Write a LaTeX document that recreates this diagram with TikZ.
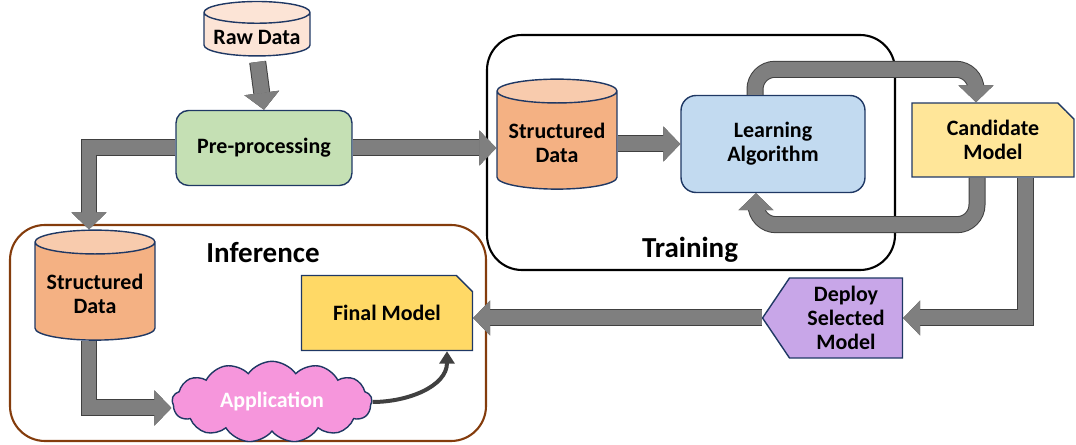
\documentclass[tikz,border=0pt]{standalone}
\usepackage{fontspec}
\setmainfont{Carlito}
\usetikzlibrary{arrows.meta,shapes.geometric,shapes.misc,shapes.symbols,calc}
\definecolor{raw_fill}{RGB}{252, 228, 214}
\definecolor{pre_fill}{RGB}{197, 224, 180}
\definecolor{sd_body}{RGB}{244, 177, 131}
\definecolor{sd_top}{RGB}{248, 203, 173}
\definecolor{la_fill}{RGB}{194, 218, 240}
\definecolor{cand_fill}{RGB}{255, 230, 153}
\definecolor{final_fill}{RGB}{255, 217, 102}
\definecolor{deploy_fill}{RGB}{200, 166, 232}
\definecolor{app_fill}{RGB}{246, 150, 220}
\definecolor{edge_blue}{RGB}{31, 56, 100}
\definecolor{arr_gray}{RGB}{127, 127, 127}
\definecolor{arr_edge}{RGB}{64, 64, 64}
\definecolor{inf_border}{RGB}{132, 60, 12}
\tikzstyle{txt}=[font=\bfseries\fontsize{12.5}{13.5}\selectfont,align=center]
\tikzstyle{cyl}=[txt,cylinder,shape border rotate=90,draw=edge_blue,line width=0.8pt,
  cylinder uses custom fill,cylinder body fill=sd_body,cylinder end fill=sd_top,
  aspect=0.22,minimum width=2.4cm,minimum height=2.2cm]
\tikzstyle{rbox}=[txt,rectangle,rounded corners=0.25cm,draw=edge_blue,line width=0.8pt]
\tikzstyle{doc}=[txt,chamfered rectangle,chamfered rectangle corners=north east,
  chamfered rectangle xsep=0.16cm,chamfered rectangle ysep=0.16cm,
  draw=edge_blue,line width=0.8pt]
\tikzstyle{sig}=[txt,signal,signal to=west,signal pointer angle=112,
  draw=edge_blue,line width=0.8pt,fill=deploy_fill]
\tikzstyle{cld}=[txt,cloud,cloud puffs=13,cloud puff arc=110,aspect=2.6,
  draw=edge_blue,line width=0.8pt,fill=app_fill,text=white]
\tikzstyle{bigarr}=[draw=arr_gray,line width=0.3cm,
  -{Triangle[width=0.7cm,length=0.34cm,line width=0.4pt]},
  preaction={draw=arr_edge,line width=0.34cm}]
\tikzstyle{lbl}=[font=\bfseries\fontsize{16.5}{17}\selectfont]
\begin{document}
\begin{tikzpicture}[x=0.02cm,y=-0.02cm]
  \useasboundingbox (0,0) rectangle (1076,445);
  % group frames
  \draw [black, line width=1.2pt, rounded corners=0.7cm] (487,35) rectangle (895,270);
  \draw [inf_border, line width=1.2pt, rounded corners=0.7cm] (10,225) rectangle (486,441);
  \node [lbl] (trainlbl) at (690,250) {Training};
  \node [lbl] (inflbl) at (263,253) {Inference};

  \node [cyl, cylinder body fill=raw_fill, cylinder end fill=raw_fill,
    minimum width=2.12cm, minimum height=1.08cm] (raw) at (257,37) {Raw Data};
  \node [rbox, fill=pre_fill, minimum width=3.52cm, minimum height=1.5cm] (pre) at (264,148) {Pre-processing};
  \node [cyl] (sdt) at (557,143) {Structured\\Data};
  \node [rbox, fill=la_fill, rounded corners=0.3cm, minimum width=3.68cm, minimum height=1.94cm] (la) at (773,144) {Learning\\Algorithm};
  \node [doc, fill=cand_fill, minimum width=3.24cm, minimum height=1.48cm] (cand) at (993,140) {Candidate\\Model};
  \node [sig, minimum width=2.8cm, minimum height=1.6cm] (deploy) at (846,318) {Deploy\\Selected\\Model};
  \node [doc, fill=final_fill, minimum width=3.42cm, minimum height=1.5cm] (final) at (387,313) {Final Model};
  \node [cyl] (sdi) at (95,294) {Structured\\Data};
  \node [cld, minimum width=4cm, minimum height=1.56cm] (app) at (272,402) {Application};

  \draw [bigarr, shorten <=3pt] (raw.south) -- (pre.north);
  \draw [bigarr] (pre.east) -- (pre.east -| sdt.west);
  \draw [bigarr] (pre.west) -| ($(sdi.north)+(-6,0)$);
  \draw [bigarr] (sdt.east |- la.west) -- (la.west);
  \draw [bigarr, rounded corners=0.4cm] ($(la.north)+(-18,0)$) |- ($(cand.north)+(-17,-33)$) -- ($(cand.north)+(-17,0)$);
  \draw [bigarr, rounded corners=0.4cm] ($(cand.south)+(-16,0)$) -- ++(0,47) -| ($(la.south)+(-17,0)$);
  \draw [bigarr] ($(cand.south)+(32,0)$) |- (deploy.east);
  \draw [bigarr] (deploy.west) -- (deploy.west -| final.east);
  \draw [bigarr] ($(sdi.south)+(-6,0)$) |- ($(app.west)+(0,6)$);
  \draw [draw=arr_edge, line width=0.08cm, -{Triangle[width=0.3cm,length=0.25cm]}]
    (app.east) to[out=0, in=-90] ($(final.south)+(60,0)$);
\end{tikzpicture}
\end{document}
